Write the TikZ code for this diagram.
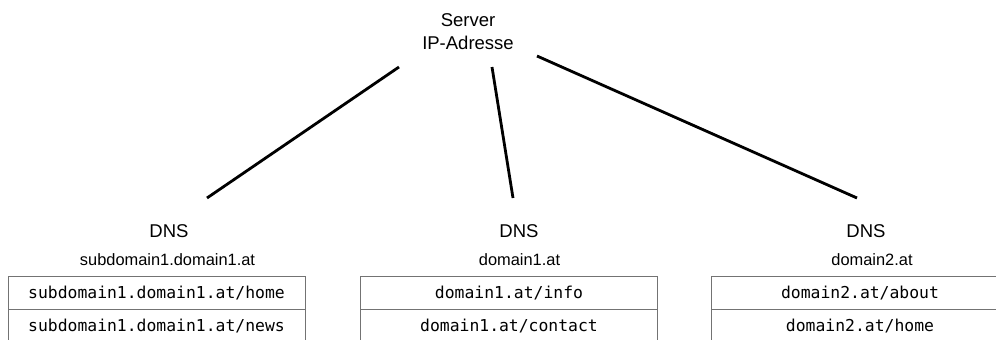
\documentclass[tikz,border=0pt]{standalone}
\usepackage{fontspec}
\setmainfont{Liberation Sans}
\newfontfamily\monofont{DejaVu Sans Mono}
\begin{document}
\begin{tikzpicture}[x=1pt,y=-1pt,
  title/.style={font=\fontsize{18.5}{23}\selectfont, align=center, inner sep=0pt},
  sub/.style={font=\fontsize{16.4}{20}\selectfont, inner sep=0pt},
  cell/.style={draw=black!55, line width=0.9pt, minimum width=297pt, minimum height=33pt,
    inner sep=0pt, font=\monofont\fontsize{16.4}{20}\selectfont},
  link/.style={line width=2.8pt}]
\clip (0,0) rectangle (996,340);
\useasboundingbox (0,0) rectangle (996,340);
\fill[white] (0,0) rectangle (996,340);
% server
\node[title] (server) at (468,32) {Server\\IP-Adresse};
% DNS headers
\node[title] (dns1) at (169,231) {DNS};
\node[sub] (sub1) at (167.5,260) {subdomain1.domain1.at};
\node[title] (dns2) at (519,231) {DNS};
\node[sub] (sub2) at (519.5,260) {domain1.at};
\node[title] (dns3) at (866,231) {DNS};
\node[sub] (sub3) at (872,260) {domain2.at};
% tables
\node[cell] (a1) at (156.5,293) {subdomain1.domain1.at/home};
\node[cell] (a2) at (156.5,326) {subdomain1.domain1.at/news};
\node[cell] (b1) at (509,293) {domain1.at/info};
\node[cell] (b2) at (509,326) {domain1.at/contact};
\node[cell] (c1) at (860,293) {domain2.at/about};
\node[cell] (c2) at (860,326) {domain2.at/home};
% connector ends
\coordinate (s1) at (399,67);
\coordinate (s2) at (492,67);
\coordinate (s3) at (537,56);
\coordinate (e1) at (207,198);
\coordinate (e2) at (513,198);
\coordinate (e3) at (857,198);
\draw[link] (s1) -- (e1);
\draw[link] (s2) -- (e2);
\draw[link] (s3) -- (e3);
\end{tikzpicture}
\end{document}
